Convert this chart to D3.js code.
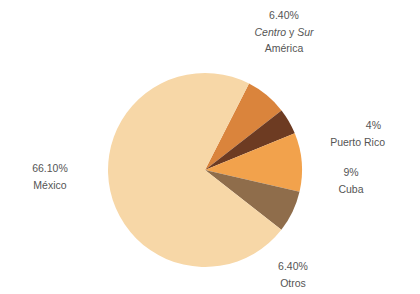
<!DOCTYPE html>
<html>
<head>
<meta charset="utf-8">
<script src="https://cdn.jsdelivr.net/npm/d3@7"></script>
<style>
    body { margin: 0; background: #fff; }
    svg text { font-family: "Liberation Sans", Arial, sans-serif; font-size: 10.5px; fill: #555; }
</style>
</head>
<body>
<svg id="chart"></svg>
<script>
const regions = ['Centro y Sur América', 'Puerto Rico', 'Cuba', 'Otros', 'México'];
const shares = [6.40, 4, 9, 6.40, 66.10];
const shareLabels = ['6.40%', '4%', '9%', '6.40%', '66.10%'];
const nameLines = [['Centro y Sur', 'América'], ['Puerto Rico'], ['Cuba'], ['Otros'], ['México']];
const colors = ['#da843c', '#6d3b22', '#f2a24c', '#8f6d4b', '#f7d7a7'];

const fullWidth = 420;
const fullHeight = 294;
const center = [205, 170];
const radius = 97;

// label anchor for each slice, in page coords (first baseline)
const labelPos = [[284, 19], [385, 129], [351, 176], [293, 270], [50, 172]];
const labelAnchor = ['middle', 'end', 'middle', 'middle', 'middle'];

const data = regions.map((name, i) => ({
    name,
    value: shares[i],
    label: shareLabels[i],
    lines: nameLines[i],
    color: colors[i],
    pos: labelPos[i],
    anchor: labelAnchor[i],
}));

const svg = d3.select('#chart')
    .attr('width', fullWidth)
    .attr('height', fullHeight);

const pie = d3.pie()
    .sort(null)
    .value(d => d.value)
    .startAngle(27 * Math.PI / 180)
    .endAngle(27 * Math.PI / 180 + 2 * Math.PI);

const arc = d3.arc()
    .innerRadius(0)
    .outerRadius(radius);

const g = svg.append('g')
    .attr('transform', `translate(${center[0]}, ${center[1]})`);

g.selectAll('.slice')
    .data(pie(data))
    .enter().append('path')
    .attr('class', 'slice')
    .attr('d', arc)
    .attr('fill', d => d.data.color);

const label = svg.selectAll('.label')
    .data(data)
    .enter().append('text')
    .attr('class', 'label')
    .attr('text-anchor', d => d.anchor)
    .attr('x', d => d.pos[0])
    .attr('y', d => d.pos[1]);

label.append('tspan')
    .attr('x', d => d.anchor === 'end' ? d.pos[0] - 4 : d.pos[0])
    .text(d => d.label);

label.each(function(d) {
    const t = d3.select(this);
    d.lines.forEach((line) => {
        const tspan = t.append('tspan')
            .attr('x', d.pos[0])
            .attr('dy', 16.5);
        if (line === 'Centro y Sur') {
            tspan.append('tspan').attr('font-style', 'italic').text('Centro');
            tspan.append('tspan').text(' y ');
            tspan.append('tspan').attr('font-style', 'italic').text('Sur');
        } else {
            tspan.text(line);
        }
    });
});
</script>
</body>
</html>
